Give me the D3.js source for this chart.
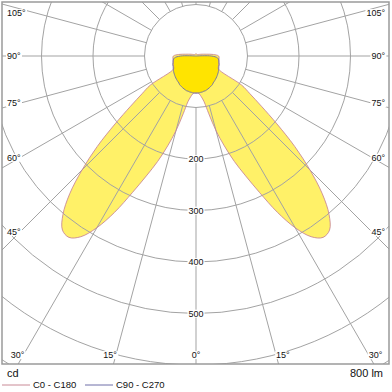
<!DOCTYPE html>
<html>
<head>
<meta charset="utf-8">
<script src="https://cdn.jsdelivr.net/npm/d3@7"></script>
<style>
  body { margin: 0; background: #fff; }
  text { font-family: "Liberation Sans", Arial, sans-serif; fill: #111; }
</style>
</head>
<body>
<script>
// gamma angles (deg from nadir) and intensities in cd
const angles = [0, 2.5, 5, 7.5, 10, 12.5, 15, 17.5, 20, 22.5, 25, 27.5, 30, 32.5, 35, 37.5, 40, 42.5, 45,
  47.5, 50, 52.5, 55, 57.5, 60, 65, 70, 75, 80, 85, 90, 95, 100, 110, 120, 135, 150, 165, 180];
const c0c180 = [72, 72, 74, 80, 90, 115, 150, 183, 218, 252, 293, 342, 385, 416, 430, 426, 402, 363, 313,
  260, 205, 160, 128, 105, 50, 48, 47, 46, 45, 45, 44, 34, 20, 10, 6, 4, 4, 4, 4];
const c90c270 = [72, 72, 72, 71, 71, 70, 70, 69, 68, 67, 66, 65, 64, 62, 61, 60, 59, 58, 57,
  56, 55, 54, 53, 52, 51, 49, 48, 46, 45, 42, 30, 0, 0, 0, 0, 0, 0, 0, 0];

const rings = [100, 200, 300, 400, 500, 600, 700, 800, 900];
const ringLabels = [200, 300, 400, 500];
const sideAngles = [45, 60, 75, 90, 105];
const bottomAngles = [0, 15, 30];
const legend = [
  { name: "C0 - C180", color: "#c98a96" },
  { name: "C90 - C270", color: "#6e6ea8" }
];

const width = 392, height = 392;
const cx = 196, cy = 56;
const box = { x0: 2, y0: 2, x1: 389, y1: 364 };

const r = d3.scaleLinear().domain([0, 100]).range([0, 51.5]);
const rad = d => d * Math.PI / 180;

const svg = d3.select("body").append("svg")
  .attr("width", width)
  .attr("height", height);

svg.append("clipPath").attr("id", "frame")
  .append("rect")
  .attr("x", box.x0).attr("y", box.y0)
  .attr("width", box.x1 - box.x0).attr("height", box.y1 - box.y0);

const plot = svg.append("g")
  .attr("clip-path", "url(#frame)")
  .append("g")
  .attr("transform", `translate(${cx},${cy})`);

// full closed curve: right half (C0/C90) then mirrored left half (C180/C270)
function curvePoints(vals) {
  const right = angles.map((a, i) => [Math.PI - rad(a), r(vals[i])]);
  const left = [];
  for (let i = angles.length - 2; i > 0; i--) {
    left.push([Math.PI + rad(angles[i]), r(vals[i])]);
  }
  return right.concat(left);
}

const radial = d3.lineRadial()
  .angle(d => d[0])
  .radius(d => d[1])
  .curve(d3.curveCatmullRomClosed.alpha(0.5));

// fills
plot.append("path")
  .attr("d", radial(curvePoints(c0c180)))
  .attr("fill", "#fff168");
plot.append("path")
  .attr("d", radial(curvePoints(c90c270)))
  .attr("fill", "#ffe400");

// grid
plot.selectAll("circle.ring")
  .data(rings)
  .enter().append("circle")
  .attr("class", "ring")
  .attr("r", d => r(d))
  .attr("fill", "none")
  .attr("stroke", "#a3a3a3")
  .attr("stroke-width", 1);

const spokes = d3.range(0, 360, 15);
plot.selectAll("line.spoke")
  .data(spokes)
  .enter().append("line")
  .attr("class", "spoke")
  .attr("x1", d => r(100) * Math.sin(rad(d)))
  .attr("y1", d => r(100) * Math.cos(rad(d)))
  .attr("x2", d => 700 * Math.sin(rad(d)))
  .attr("y2", d => 700 * Math.cos(rad(d)))
  .attr("stroke", "#a3a3a3")
  .attr("stroke-width", 1);

// outlines
plot.append("path")
  .attr("d", radial(curvePoints(c0c180)))
  .attr("fill", "none")
  .attr("stroke", legend[0].color)
  .attr("stroke-width", 0.9);
plot.append("path")
  .attr("d", radial(curvePoints(c90c270)))
  .attr("fill", "none")
  .attr("stroke", legend[1].color)
  .attr("stroke-width", 0.9);

// frame
svg.append("rect")
  .attr("x", box.x0).attr("y", box.y0)
  .attr("width", box.x1 - box.x0).attr("height", box.y1 - box.y0)
  .attr("fill", "none")
  .attr("stroke", "#9a9a9a")
  .attr("stroke-width", 1.5);

// label with white backing
const labels = svg.append("g");
function label(x, y, txt, anchor) {
  const g = labels.append("g");
  const t = g.append("text")
    .attr("x", x).attr("y", y)
    .attr("dy", "0.35em")
    .attr("text-anchor", anchor)
    .attr("font-size", 9)
    .text(txt);
  const b = t.node().getBBox();
  g.insert("rect", "text")
    .attr("x", b.x - 1).attr("y", b.y + 1)
    .attr("width", b.width + 2).attr("height", b.height - 2)
    .attr("fill", "#fff");
}

ringLabels.forEach(v => label(cx, cy + r(v), v, "middle"));

sideAngles.forEach(a => {
  const y = Math.max(13, cy + 176 / Math.tan(rad(a)));
  label(7, y, a + "°", "start");
  label(385, y, a + "°", "end");
});

bottomAngles.forEach(a => {
  const y = 355;
  const dx = (y - cy) * Math.tan(rad(a));
  if (a === 0) {
    label(cx, y, "0°", "middle");
  } else {
    label(cx - dx + 1, y, a + "°", "end");
    label(cx + dx, y, a + "°", "start");
  }
});

// footer
svg.append("text")
  .attr("x", 7).attr("y", 377)
  .attr("font-size", 11)
  .text("cd");
svg.append("text")
  .attr("x", 383).attr("y", 377)
  .attr("text-anchor", "end")
  .attr("font-size", 11)
  .text("800 lm");

const leg = svg.append("g").selectAll("g")
  .data(legend)
  .enter().append("g")
  .attr("transform", (d, i) => `translate(${2 + i * 83},385)`);
leg.append("line")
  .attr("x1", 0).attr("x2", 28)
  .attr("stroke", d => d.color)
  .attr("stroke-width", 1);
leg.append("text")
  .attr("x", 31)
  .attr("dy", "0.35em")
  .attr("font-size", 9.5)
  .text(d => d.name);
</script>
</body>
</html>
